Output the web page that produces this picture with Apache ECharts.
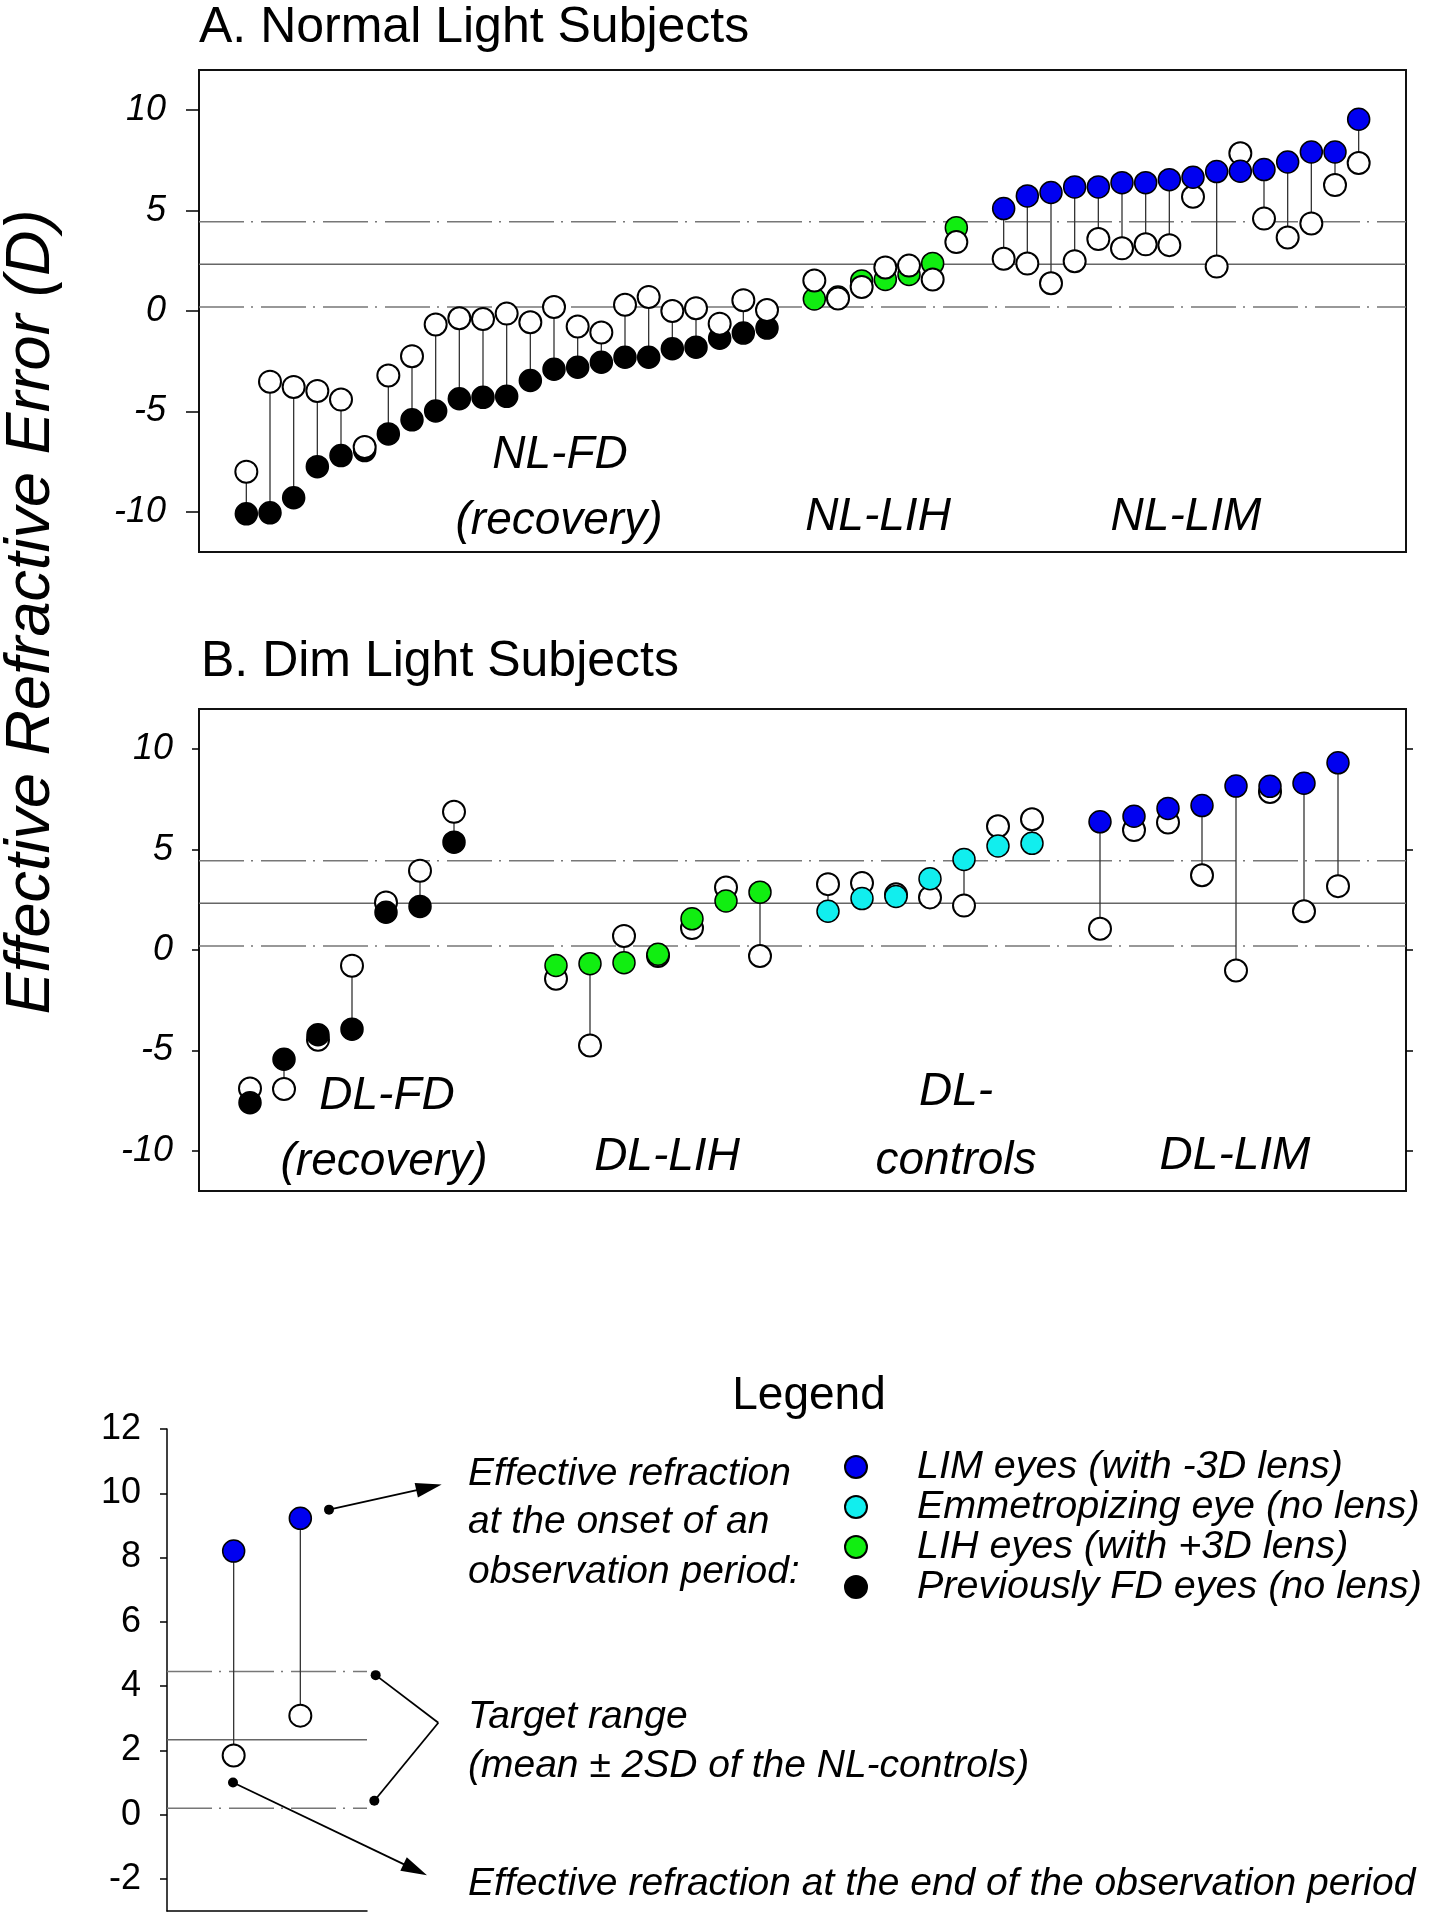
<!DOCTYPE html>
<html>
<head>
<meta charset="utf-8">
<script src="https://cdn.jsdelivr.net/npm/echarts@6.0.0/dist/echarts.min.js"></script>
<style>
    html, body { margin: 0; padding: 0; background: #fff; }
    #chart { width: 1429px; height: 1920px; }
</style>
</head>
<body>
<div id="chart"></div>
<script>
// A. Normal light subjects (onset = filled dot, end = open dot)
var nlFdOnset = [-10.1, -10.05, -9.3, -7.75, -7.2, -6.95, -6.12, -5.42, -4.98, -4.37, -4.3, -4.25,
    -3.46, -2.9, -2.8, -2.55, -2.3, -2.3, -1.88, -1.8, -1.36, -1.1, -0.85];
var nlFdEnd = [-8.0, -3.52, -3.78, -3.98, -4.41, -6.77, -3.21, -2.25, -0.67, -0.36, -0.4, -0.13,
    -0.56, 0.2, -0.77, -1.07, 0.31, 0.7, 0.0, 0.14, -0.63, 0.54, 0.05];
var nlLihOnset = [0.6, 0.7, 1.5, 1.57, 1.82, 2.37, 4.15];
var nlLihEnd = [1.52, 0.62, 1.2, 2.17, 2.26, 1.57, 3.43];
var nlLimOnset = [5.1, 5.73, 5.9, 6.18, 6.18, 6.39, 6.39, 6.54, 6.66, 6.94, 6.96, 7.04, 7.42, 7.92, 7.92, 9.55];
var nlLimEnd = [2.6, 2.36, 1.38, 2.48, 3.58, 3.12, 3.32, 3.28, 5.69, 2.21, 7.85, 4.6, 3.66, 4.36, 6.27, 7.37];

// B. Dim light subjects
var dlFdOnset = [-7.6, -5.44, -4.22, -3.94, 1.88, 2.17, 5.37];
var dlFdEnd = [-6.9, -6.92, -4.47, -0.78, 2.37, 3.95, 6.88];
var dlLihOnset = [-0.77, -0.68, -0.63, -0.21, 1.55, 2.44, 2.88];
var dlLihEnd = [-1.43, -4.75, 0.7, -0.3, 1.09, 3.11, -0.3];
var dlCtrlOnset = [1.93, 2.56, 2.67, 3.55, 4.51, 5.18, 5.31];
var dlCtrlEnd = [3.28, 3.33, 2.77, 2.62, 2.21, 6.16, 6.51];
var dlLimOnset = [6.38, 6.66, 7.05, 7.19, 8.16, 8.15, 8.3, 9.32];
var dlLimEnd = [1.06, 5.97, 6.35, 3.72, -1.02, 7.87, 1.93, 3.18];

// x index of the first eye of each group
var nlFdStart = 0, nlLihStart = 24, nlLimStart = 32;
var dlFdStart = 0, dlLihStart = 9, dlCtrlStart = 17, dlLimStart = 25;

// target range (mean +- 2SD of NL-controls)
var targetUpper = 4.45, targetMean = 2.33, targetLower = 0.2;

var panelTicks = [-10, -5, 0, 5, 10];
var legendTicks = [-2, 0, 2, 4, 6, 8, 10, 12];

// legend example panel
var exampleX = [1, 2];
var exampleOnset = [8.2, 9.22];
var exampleEnd = [1.84, 3.08];
// annotation arrows of the legend panel: [x1, y1, x2, y2, arrowhead]
var exampleArrows = [
    [2.43, 9.49, 4.12, 10.27, 1],
    [3.13, 4.34, 4.07, 2.86, 0],
    [3.11, 0.43, 4.07, 2.86, 0],
    [0.99, 1.0, 3.9, -1.89, 1]
];

var FONT = '"Liberation Sans", Arial, sans-serif';

var kindName = {
    lim: 'LIM eyes (with -3D lens)',
    ctrl: 'Emmetropizing eye (no lens)',
    lih: 'LIH eyes (with +3D lens)',
    fd: 'Previously FD eyes (no lens)'
};
var kindColor = { lim: '#0000f0', ctrl: '#11eeee', lih: '#11ee11', fd: '#000000' };

function points(start, vals) {
    return vals.map(function (v, i) { return [start + i, v]; });
}

function stemData(start, onset, end) {
    return onset.map(function (v, i) { return [start + i, v, end[i]]; });
}

function renderStem(params, api) {
    var a = api.coord([api.value(0), api.value(1)]);
    var b = api.coord([api.value(0), api.value(2)]);
    return {
        type: 'line',
        shape: { x1: a[0], y1: a[1], x2: b[0], y2: b[1] },
        style: { stroke: '#333', lineWidth: 1.3 }
    };
}

function renderArrow(params, api) {
    var p = api.coord([api.value(0), api.value(1)]);
    var q = api.coord([api.value(2), api.value(3)]);
    var head = api.value(4);
    var dx = q[0] - p[0], dy = q[1] - p[1];
    var len = Math.sqrt(dx * dx + dy * dy);
    var ux = dx / len, uy = dy / len;
    var L = 26, W = 15;
    var ex = head ? q[0] - ux * L * 0.8 : q[0];
    var ey = head ? q[1] - uy * L * 0.8 : q[1];
    var children = [
        { type: 'circle', shape: { cx: p[0], cy: p[1], r: 5 }, style: { fill: '#000' } },
        { type: 'line', shape: { x1: p[0], y1: p[1], x2: ex, y2: ey }, style: { stroke: '#000', lineWidth: 1.8 } }
    ];
    if (head) {
        var bx = q[0] - ux * L, by = q[1] - uy * L;
        children.push({
            type: 'polygon',
            shape: { points: [[q[0], q[1]], [bx - uy * W / 2, by + ux * W / 2], [bx + uy * W / 2, by - ux * W / 2]] },
            style: { fill: '#000' }
        });
    }
    return { type: 'group', children: children };
}

function refLines(xi, yi, xmin, xmax) {
    var dash = [45, 7, 2, 8];
    return [
        { v: targetUpper, type: dash, color: '#777', width: 1.5 },
        { v: targetMean, type: 'solid', color: '#666', width: 1.6 },
        { v: targetLower, type: dash, color: '#777', width: 1.5 }
    ].map(function (r) {
        return {
            type: 'line', xAxisIndex: xi, yAxisIndex: yi, silent: true, z: 1,
            symbol: 'none', data: [[xmin, r.v], [xmax, r.v]],
            lineStyle: { color: r.color, width: r.width, type: r.type }
        };
    });
}

function groupSeries(xi, yi, g) {
    var list = [];
    list.push({
        type: 'custom', xAxisIndex: xi, yAxisIndex: yi, silent: true, z: 2,
        renderItem: renderStem, data: stemData(g.start, g.onset, g.end),
        encode: { x: 0, y: [1, 2] }
    });
    list.push({
        type: 'scatter', name: kindName[g.kind], xAxisIndex: xi, yAxisIndex: yi,
        z: g.openOnTop ? 4 : 6, symbol: 'circle', symbolSize: 22,
        itemStyle: { color: kindColor[g.kind], borderColor: '#000', borderWidth: 1.5, opacity: 1 },
        data: points(g.start, g.onset)
    });
    list.push({
        type: 'scatter', xAxisIndex: xi, yAxisIndex: yi, z: 5,
        symbol: 'circle', symbolSize: 22,
        itemStyle: { color: '#fff', borderColor: '#000', borderWidth: 2, opacity: 1 },
        data: points(g.start, g.end)
    });
    return list;
}

var panelA = [
    { start: nlFdStart, onset: nlFdOnset, end: nlFdEnd, kind: 'fd', openOnTop: true },
    { start: nlLihStart, onset: nlLihOnset, end: nlLihEnd, kind: 'lih', openOnTop: true },
    { start: nlLimStart, onset: nlLimOnset, end: nlLimEnd, kind: 'lim', openOnTop: false }
];
var panelB = [
    { start: dlFdStart, onset: dlFdOnset, end: dlFdEnd, kind: 'fd', openOnTop: false },
    { start: dlLihStart, onset: dlLihOnset, end: dlLihEnd, kind: 'lih', openOnTop: false },
    { start: dlCtrlStart, onset: dlCtrlOnset, end: dlCtrlEnd, kind: 'ctrl', openOnTop: false },
    { start: dlLimStart, onset: dlLimOnset, end: dlLimEnd, kind: 'lim', openOnTop: false }
];

var series = [];
series = series.concat(refLines(0, 0, -2, 49));
panelA.forEach(function (g) { series = series.concat(groupSeries(0, 0, g)); });
series = series.concat(refLines(1, 1, -1.5, 34));
panelB.forEach(function (g) { series = series.concat(groupSeries(1, 1, g)); });
series = series.concat(refLines(2, 3, 0, 3));
series = series.concat(groupSeries(2, 3, { start: exampleX[0], onset: exampleOnset, end: exampleEnd, kind: 'lim', openOnTop: false }));
series.push({
    type: 'custom', xAxisIndex: 2, yAxisIndex: 3, silent: true, z: 3, clip: false,
    renderItem: renderArrow, data: exampleArrows
});

function panelY(grid, margin, tickLen, pos, labels) {
    return {
        type: 'value', gridIndex: grid, min: -12, max: 12, position: pos,
        axisLine: { show: false, onZero: false }, splitLine: { show: false },
        axisTick: { show: true, inside: false, length: tickLen, customValues: panelTicks,
            lineStyle: { color: '#000', width: 1.5 } },
        axisLabel: { show: labels, customValues: panelTicks, margin: margin, color: '#000',
            fontSize: 36, fontStyle: 'italic', fontFamily: FONT }
    };
}

function hiddenX(grid, min, max) {
    return { type: 'value', gridIndex: grid, min: min, max: max,
        axisLine: { show: false, onZero: false }, axisTick: { show: false },
        axisLabel: { show: false }, splitLine: { show: false } };
}

function txt(x, y, text, size, italic, align) {
    return {
        type: 'text', x: x, y: y, silent: true,
        style: { text: text, fill: '#000', fontSize: size, fontFamily: FONT,
            fontStyle: italic ? 'italic' : 'normal', align: align || 'center', verticalAlign: 'middle' }
    };
}

var myChart = echarts.init(document.getElementById('chart'), null, { renderer: 'canvas' });

var option = {
    backgroundColor: '#fff',
    animation: false,
    grid: [
        { left: 199, top: 70, width: 1207, height: 482, show: true, borderColor: '#111', borderWidth: 2, backgroundColor: 'transparent' },
        { left: 199, top: 709, width: 1207, height: 482, show: true, borderColor: '#111', borderWidth: 2, backgroundColor: 'transparent' },
        { left: 167, top: 1429, width: 200, height: 482 }
    ],
    xAxis: [
        hiddenX(0, -2, 49),
        hiddenX(1, -1.5, 34),
        {
            type: 'value', gridIndex: 2, min: 0, max: 3, position: 'bottom',
            axisLine: { show: true, onZero: false, lineStyle: { color: '#000', width: 1.5 } },
            axisTick: { show: false }, axisLabel: { show: false }, splitLine: { show: false }
        }
    ],
    yAxis: [
        panelY(0, 33, 13, 'left', true),
        panelY(1, 26, 7, 'left', true),
        panelY(1, 0, 7, 'right', false),
        {
            type: 'value', gridIndex: 2, min: -3, max: 12,
            axisLine: { show: true, onZero: false, lineStyle: { color: '#000', width: 1.5 } },
            splitLine: { show: false },
            axisTick: { show: true, length: 7, customValues: legendTicks, lineStyle: { color: '#000', width: 1.5 } },
            axisLabel: { customValues: legendTicks, margin: 26, color: '#000', fontSize: 36, fontFamily: FONT }
        }
    ],
    legend: {
        data: [kindName.lim, kindName.ctrl, kindName.lih, kindName.fd],
        orient: 'vertical', left: 844, top: 1447, padding: 0,
        itemWidth: 22, itemHeight: 22, itemGap: 0,
        selectedMode: false,
        textStyle: { color: '#000', fontSize: 39.5, fontStyle: 'italic', fontFamily: FONT,
            lineHeight: 37, padding: [0, 0, 0, 45] }
    },
    graphic: [
        txt(199, 28, 'A. Normal Light Subjects', 50, false, 'left'),
        txt(201, 662, 'B. Dim Light Subjects', 50, false, 'left'),
        {
            type: 'text', x: 31, y: 612, rotation: Math.PI / 2, silent: true,
            style: { text: 'Effective Refractive Error (D)', fill: '#000', fontSize: 63, fontFamily: FONT,
                fontStyle: 'italic', align: 'center', verticalAlign: 'middle' }
        },
        txt(560, 455, 'NL-FD', 46, true),
        txt(559, 521, '(recovery)', 46, true),
        txt(878, 517, 'NL-LIH', 46, true),
        txt(1186, 517, 'NL-LIM', 46, true),
        txt(387, 1096, 'DL-FD', 46, true),
        txt(384, 1162, '(recovery)', 46, true),
        txt(667, 1157, 'DL-LIH', 46, true),
        txt(956, 1092, 'DL-', 46, true),
        txt(956, 1161, 'controls', 46, true),
        txt(1235, 1156, 'DL-LIM', 46, true),
        txt(809, 1396, 'Legend', 46, false),
        txt(468, 1474, 'Effective refraction', 39, true, 'left'),
        txt(468, 1522, 'at the onset of an', 39, true, 'left'),
        txt(468, 1572, 'observation period:', 39, true, 'left'),
        txt(468, 1717, 'Target range', 39, true, 'left'),
        txt(468, 1766, '(mean \u00b1 2SD of the NL-controls)', 39, true, 'left'),
        txt(468, 1884, 'Effective refraction at the end of the observation period', 39, true, 'left')
    ],
    series: series
};

myChart.setOption(option);
window.addEventListener('resize', function () {
    myChart.resize();
});
</script>
</body>
</html>
